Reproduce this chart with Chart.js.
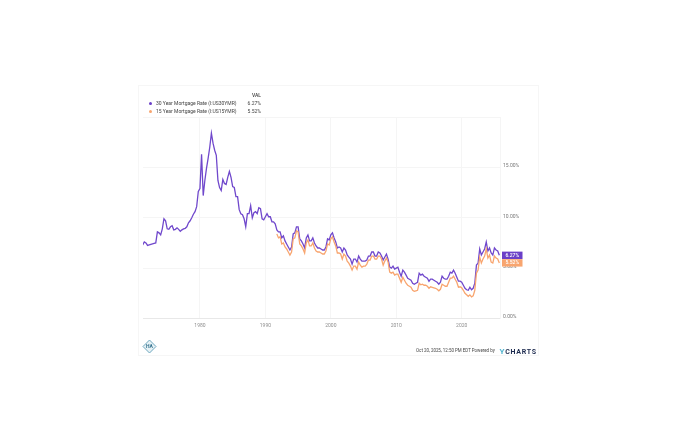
<!DOCTYPE html>
<html lang="en">
<head>
<meta charset="UTF-8">
<title>Mortgage Rates</title>
<style>
    html, body { margin: 0; padding: 0; background: #fff; }
    body { width: 700px; height: 441px; overflow: hidden; position: relative; font-family: Roboto, Arial, sans-serif; }
    #wrap { position: absolute; left: 0; top: 0; width: 700px; height: 441px; filter: blur(0.55px); }
    #card { position: absolute; left: 138px; top: 85px; width: 401px; height: 271px; border: 1px solid #f6f6f6; box-sizing: border-box; }
    canvas { position: absolute; left: 0; top: 0; }
    .txt { position: absolute; white-space: nowrap; color: #444; font-size: 5px; line-height: 8px; }
    .val { width: 14px; text-align: right; left: 247px; }
    .dot { position: absolute; width: 3px; height: 3px; border-radius: 50%; }
    #yc { position: absolute; left: 499.5px; top: 346.5px; font-size: 7px; line-height: 9px; font-weight: 700; letter-spacing: 0.75px; color: #1d2b4f; white-space: nowrap; }
    #yc span { color: #52b4cf; font-size: 8px; }
</style>
<script src="https://cdn.jsdelivr.net/npm/chart.js@4.0.1/dist/chart.umd.min.js"></script>
</head>
<body>
<div id="wrap">
    <div id="card"></div>
    <canvas id="chart" width="700" height="441"></canvas>

    <div class="txt val" style="top:91px; font-weight:500;">VAL</div>
    <div class="dot" style="left:148.5px; top:101.5px; background:#6a3fc8;"></div>
    <div class="txt" style="left:156px; top:99px;">30 Year Mortgage Rate (I:US30YMR)</div>
    <div class="txt val" style="top:99px;">6.27%</div>
    <div class="dot" style="left:148.5px; top:109.5px; background:#f8a56f;"></div>
    <div class="txt" style="left:156px; top:107px;">15 Year Mortgage Rate (I:US15YMR)</div>
    <div class="txt val" style="top:107px;">5.52%</div>

    <div class="txt" style="left:416px; top:346.7px; font-size:4.45px;">Oct 20, 2025, 12:50 PM EDT Powered by</div>
    <div id="yc"><span>Y</span>CHARTS</div>
</div>
<script>
    // one value per quarter
    const start30 = 1971.25;
    const rate30 = [
        7.3, 7.6, 7.5,
        7.25, 7.3, 7.35, 7.4,
        7.45, 7.5, 8.6, 8.5,
        8.3, 8.9, 9.9, 9.7,
        8.9, 8.85, 9.1, 9.2,
        8.8, 8.85, 9.0, 8.85,
        8.65, 8.8, 8.9, 8.95,
        9.1, 9.5, 9.7, 10.0,
        10.35, 10.6, 11.1, 12.6,
        12.9, 16.3, 12.2, 13.7,
        14.9, 15.9, 17.0, 18.4,
        17.4, 16.7, 16.2, 13.7,
        13.0, 12.7, 13.8, 13.4,
        13.3, 14.0, 14.6, 14.0,
        13.1, 13.0, 12.1, 12.1,
        10.8, 10.4, 10.3, 9.9,
        9.1, 10.4, 10.4, 11.2,
        10.0, 10.5, 10.6, 10.4,
        11.0, 10.9, 9.9, 9.8,
        10.1, 10.4, 10.1, 10.1,
        9.6, 9.6, 9.4, 8.8,
        8.6, 8.6, 8.0, 8.2,
        7.7, 7.4, 7.1, 6.8,
        7.1, 8.4, 8.5, 9.1,
        9.1, 7.9, 7.7, 7.4,
        7.0, 8.0, 8.3, 7.7,
        7.7, 8.0, 7.5, 7.2,
        7.0, 7.0, 6.9, 6.8,
        6.8, 7.1, 7.9, 7.8,
        8.3, 8.5, 8.0, 7.6,
        7.0, 7.1, 7.0, 6.6,
        7.0, 6.8, 6.3, 6.1,
        5.9, 5.4, 5.9, 5.9,
        5.6, 6.2, 5.9, 5.7,
        5.7, 5.7, 5.8, 6.2,
        6.2, 6.6, 6.6, 6.2,
        6.2, 6.6, 6.5, 6.2,
        5.8, 6.1, 6.4, 5.9,
        5.1, 5.0, 5.2, 4.9,
        5.0, 5.1, 4.6, 4.2,
        4.8, 4.6, 4.3, 4.0,
        3.9, 3.8, 3.5, 3.4,
        3.5, 3.6, 4.5, 4.3,
        4.4, 4.2, 4.1, 4.0,
        3.7, 3.9, 3.9, 3.8,
        3.7, 3.6, 3.4, 3.6,
        4.2, 4.0, 3.9, 3.9,
        4.2, 4.6, 4.5, 4.8,
        4.5, 4.1, 3.7, 3.7,
        3.6, 3.3, 3.0, 2.85,
        2.8, 3.1, 2.85, 3.0,
        3.5, 5.3, 5.5, 6.9,
        6.3, 6.6, 6.9, 7.6,
        6.7, 7.0, 6.5, 6.3,
        7.0, 6.8, 6.7, 6.27
    ];

    const start15 = 1991.75;
    const rate15 = [
        8.4,
        8.0, 8.1, 7.4, 7.5,
        7.1, 6.9, 6.6, 6.3,
        6.6, 7.9, 8.0, 8.7,
        8.6, 7.4, 7.2, 6.9,
        6.5, 7.5, 7.8, 7.2,
        7.2, 7.5, 7.0, 6.7,
        6.6, 6.6, 6.5, 6.4,
        6.4, 6.7, 7.4, 7.3,
        7.9, 8.1, 7.6, 7.2,
        6.5, 6.5, 6.4, 5.9,
        6.4, 6.2, 5.7, 5.5,
        5.2, 4.8, 5.2, 5.2,
        4.9, 5.6, 5.3, 5.1,
        5.2, 5.2, 5.4, 5.8,
        5.8, 6.2, 6.2, 5.9,
        5.9, 6.2, 6.2, 5.9,
        5.3, 5.7, 6.0, 5.6,
        4.6, 4.5, 4.6, 4.3,
        4.4, 4.4, 4.0, 3.6,
        4.1, 3.8, 3.5, 3.3,
        3.2, 3.1, 2.8, 2.7,
        2.75, 2.8, 3.5, 3.35,
        3.4, 3.3, 3.3, 3.2,
        3.0, 3.15, 3.1, 3.05,
        3.0, 2.9, 2.75, 2.9,
        3.4, 3.3, 3.2, 3.2,
        3.6, 4.0, 4.0, 4.2,
        3.9, 3.6, 3.1, 3.15,
        3.05, 2.8, 2.5, 2.35,
        2.2, 2.35, 2.15, 2.25,
        2.8, 4.5, 4.8, 6.1,
        5.5, 5.9, 6.2, 6.9,
        6.0, 6.3, 5.6, 5.5,
        6.2, 6.0, 5.9, 5.52
    ];

    const lastValues = [6.27, 5.52];
    const tagColors = ['#6a3fc8', '#f8a56f'];
    const hiddenRateTicks = [20];

    const toPoints = (start, values) => values.map((v, i) => ({ x: start + i / 4, y: v }));

    // price tags on the right side and the little logo
    const extras = {
        id: 'extras',
        afterDraw(chart) {
            const ctx = chart.ctx;
            const yScale = chart.scales.y;
            lastValues.forEach((v, i) => {
                const y = yScale.getPixelForValue(v);
                ctx.fillStyle = tagColors[i];
                ctx.fillRect(502, y - 3.7, 20.5, 7.4);
                ctx.fillStyle = '#fff';
                ctx.font = '500 5px Roboto';
                ctx.textAlign = 'left';
                ctx.textBaseline = 'middle';
                ctx.fillText(v.toFixed(2) + '%', 505.5, y + 0.2);
            });

            // logo
            ctx.save();
            ctx.translate(149.5, 346.5);
            ctx.beginPath();
            ctx.moveTo(0, -6.5); ctx.lineTo(6.5, 0); ctx.lineTo(0, 6.5); ctx.lineTo(-6.5, 0); ctx.closePath();
            ctx.fillStyle = '#e6f1f5';
            ctx.fill();
            ctx.strokeStyle = '#6fa8bf';
            ctx.lineWidth = 1;
            ctx.stroke();
            ctx.fillStyle = '#2f6f8c';
            ctx.font = '700 5px Roboto';
            ctx.textAlign = 'center';
            ctx.textBaseline = 'middle';
            ctx.fillText('HA', 0, 0.3);
            ctx.restore();
        }
    };

    new Chart(document.getElementById('chart'), {
        type: 'line',
        data: {
            datasets: [
                {
                    label: '15 Year Mortgage Rate (I:US15YMR)',
                    data: toPoints(start15, rate15),
                    borderColor: '#f8a56f',
                    borderWidth: 1.3,
                    pointRadius: 0,
                    tension: 0
                },
                {
                    label: '30 Year Mortgage Rate (I:US30YMR)',
                    data: toPoints(start30, rate30),
                    borderColor: '#7048cc',
                    borderWidth: 1.3,
                    pointRadius: 0,
                    tension: 0
                }
            ]
        },
        options: {
            responsive: false,
            animation: false,
            layout: { padding: { left: 143, top: 117, right: 0, bottom: 108.5 } },
            plugins: { legend: { display: false }, tooltip: { enabled: false } },
            scales: {
                x: {
                    type: 'linear',
                    min: 1971.3,
                    max: 2025.85,
                    afterFit: (s) => { s.height = 14; },
                    grid: { color: '#f5f5f5', lineWidth: 1, drawTicks: false },
                    border: { color: '#e8e8e8' },
                    ticks: {
                        stepSize: 10,
                        includeBounds: false,
                        maxRotation: 0,
                        padding: 4,
                        color: '#8f8f8f',
                        font: { family: 'Roboto', size: 5 },
                        callback: (v) => String(v)
                    }
                },
                y: {
                    position: 'right',
                    min: 0,
                    max: 20,
                    afterFit: (s) => { s.width = 200; },
                    grid: { color: '#f5f5f5', lineWidth: 1, drawTicks: false },
                    border: { color: '#f5f5f5' },
                    ticks: {
                        stepSize: 5,
                        padding: 3,
                        labelOffset: -1.5,
                        color: '#777',
                        font: { family: 'Roboto', size: 5 },
                        callback: (v) => hiddenRateTicks.includes(v) ? '' : v.toFixed(2) + '%'
                    }
                }
            }
        },
        plugins: [extras]
    });
</script>
</body>
</html>
